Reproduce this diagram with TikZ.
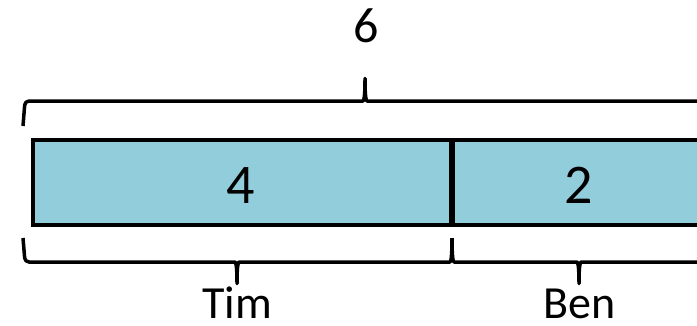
\documentclass[tikz,border=0pt]{standalone}
\usepackage{fontspec}
\setmainfont{Carlito}
\definecolor{barfill}{HTML}{92CDDC}
\begin{document}
\begin{tikzpicture}[x=1pt,y=-1pt,
  seg/.style={draw=black,line width=3.5pt,fill=barfill,rectangle,inner sep=0pt},
  brace/.style={draw=black,line width=3.5pt,rounded corners=4pt,line join=round},
  lbl/.style={anchor=base,inner sep=0pt,font=\fontsize{46}{50}\selectfont},
  num/.style={anchor=base,inner sep=0pt,font=\fontsize{56}{60}\selectfont}]
\useasboundingbox (0,0) rectangle (697,325);
\clip (0,0) rectangle (697,325);
% bar segments
\node[seg,minimum width=418pt,minimum height=85pt] (tim) at (242,182.5) {};
\node[seg,minimum width=270pt,minimum height=85pt] (ben) at (586,182.5) {};
\draw[line width=3.5pt] (tim.north east) -- (tim.south east);
% numbers
\node[num] (four) at (241,203) {4};
\node[num] (two) at (579,203) {2};
\node[lbl,font=\fontsize{50}{54}\selectfont] (six) at (366,42) {6};
\node[lbl] (timl) at (237,318) {Tim};
\node[lbl] (benl) at (580,318) {Ben};
% top brace
\coordinate (tl) at (23,126);
\coordinate (tr) at (707,126);
\coordinate (ttip) at (365,76);
\draw[brace] (tl) -- (25,101) -- (359,101)
  .. controls (364,101) and (365,95) .. (ttip)
  .. controls (365,95) and (366,101) .. (371,101) -- (705,101) -- (tr);
% bottom left brace (Tim)
\coordinate (bl) at (23,238);
\coordinate (bm) at (452,238);
\coordinate (timtip) at (237,286);
\draw[brace] (bl) -- (25,262) -- (231,262)
  .. controls (236,262) and (237,268) .. (timtip)
  .. controls (237,268) and (238,262) .. (243,262) -- (446,262)
  .. controls (451,262) and (452,256) .. (bm);
% bottom right brace (Ben)
\coordinate (bentip) at (579,286);
\coordinate (br) at (707,238);
\draw[brace] (bm) .. controls (452,256) and (453,262) .. (458,262) -- (573,262)
  .. controls (578,262) and (579,268) .. (bentip)
  .. controls (579,268) and (580,262) .. (585,262) -- (705,262) -- (br);
\end{tikzpicture}
\end{document}
